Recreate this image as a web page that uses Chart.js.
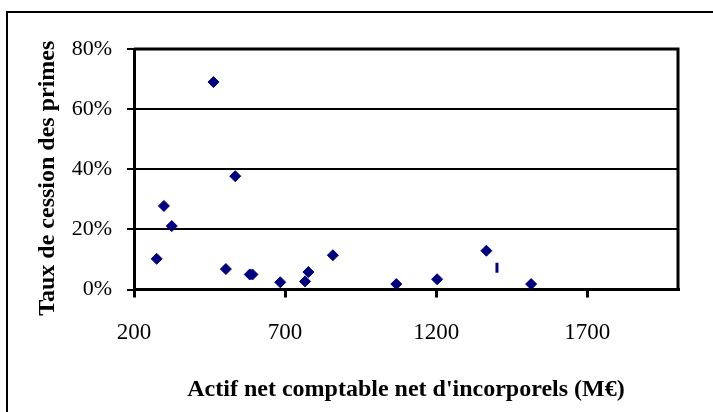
<!DOCTYPE html>
<html>
<head>
<meta charset="utf-8">
<script src="https://cdn.jsdelivr.net/npm/chart.js@4/dist/chart.umd.min.js"></script>
<style>
  html, body { margin: 0; padding: 0; background: #fff; }
  #wrap { width: 713px; height: 412px; }
</style>
</head>
<body>
<div id="wrap"><canvas id="cessionChart"></canvas></div>
<script>
// actif net comptable net d'incorporels (M€)
const actifNet = [275, 299, 325, 463, 535, 504, 583, 592, 684, 766, 777, 858, 1068, 1203, 1366, 1514];
// taux de cession des primes (%)
const tauxCession = [10.2, 27.8, 21.1, 69.0, 37.7, 6.8, 5.0, 5.0, 2.4, 2.7, 5.8, 11.4, 1.8, 3.4, 12.9, 1.8];
// stray mark near 1400
const markX = [1401];
const markY = [7.2];

const xTicks = [200, 700, 1200, 1700];

const navy = '#000080';

// outer frame + plot box
const framePlugin = {
  id: 'frame',
  beforeDraw(chart) {
    const c = chart.ctx;
    c.save();
    c.fillStyle = '#fff';
    c.fillRect(0, 0, chart.width, chart.height);
    c.strokeStyle = '#000';
    c.lineWidth = 2;
    c.strokeRect(7, 12, 800, 500);
    c.restore();
  },
  afterDatasetsDraw(chart) {
    const a = chart.chartArea;
    const c = chart.ctx;
    c.save();
    c.strokeStyle = '#000';
    c.lineWidth = 3;
    c.beginPath();
    c.moveTo(a.left, a.top);
    c.lineTo(a.right, a.top);
    c.lineTo(a.right, a.bottom);
    c.stroke();
    c.restore();
  }
};

const ctx = document.getElementById('cessionChart').getContext('2d');

new Chart(ctx, {
  type: 'scatter',
  data: {
    datasets: [
      {
        data: actifNet.map((x, i) => ({ x: x, y: tauxCession[i] })),
        pointStyle: 'rectRot',
        pointRadius: 5.5,
        backgroundColor: navy,
        borderColor: navy,
        borderWidth: 1
      },
      {
        data: markX.map((x, i) => ({ x: x, y: markY[i] })),
        pointStyle: 'line',
        rotation: 90,
        pointRadius: 5,
        borderColor: navy,
        borderWidth: 3
      }
    ]
  },
  options: {
    responsive: true,
    maintainAspectRatio: false,
    animation: false,
    layout: { padding: { left: 33, top: 49, right: 35, bottom: 0 } },
    plugins: {
      legend: { display: false },
      tooltip: { enabled: false }
    },
    scales: {
      x: {
        type: 'linear',
        min: 200,
        max: 2000,
        afterBuildTicks: (s) => { s.ticks = xTicks.map(v => ({ value: v })); },
        afterFit: (s) => { s.height = 122.5; },
        border: { color: '#000', width: 3 },
        grid: { drawOnChartArea: false, drawTicks: true, tickLength: 8, color: '#000', lineWidth: 3 },
        ticks: {
          color: '#000',
          padding: 22,
          maxRotation: 0,
          callback: (v) => String(v),
          font: { family: 'Liberation Serif', size: 23 }
        },
        title: {
          display: true,
          text: "Actif net comptable net d'incorporels (M€)",
          color: '#000',
          padding: { top: 0, bottom: 8 },
          font: { family: 'Liberation Serif', size: 24, weight: 'bold' }
        }
      },
      y: {
        min: 0,
        max: 80,
        afterFit: (s) => { s.width = 101; },
        border: { color: '#000', width: 3 },
        grid: { color: '#000', lineWidth: 2, drawTicks: true, tickLength: 7 },
        ticks: {
          stepSize: 20,
          color: '#000',
          padding: 15,
          callback: (v) => v + '%',
          font: { family: 'Liberation Serif', size: 22 }
        },
        title: {
          display: true,
          // trailing spaces nudge the title down like the original
          text: 'Taux de cession des primes   ',
          color: '#000',
          padding: { top: 0, bottom: 0 },
          font: { family: 'Liberation Serif', size: 24, weight: 'bold' }
        }
      }
    }
  },
  plugins: [framePlugin]
});
</script>
</body>
</html>
